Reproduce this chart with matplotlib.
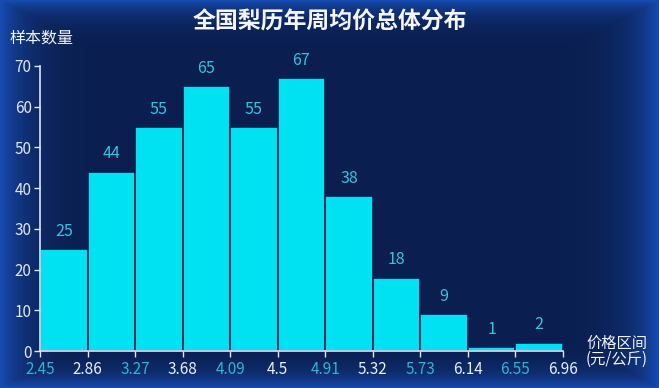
import numpy as np
import matplotlib
matplotlib.use("Agg")
import matplotlib.pyplot as plt

plt.rcParams['font.family'] = ['Noto Sans CJK SC', 'DejaVu Sans']

# price bins (yuan/kg) and weekly sample counts
bin_edges = [2.45, 2.86, 3.27, 3.68, 4.09, 4.5, 4.91, 5.32, 5.73, 6.14, 6.55, 6.96]
counts = [25, 44, 55, 65, 55, 67, 38, 18, 9, 1, 2]
tick_labels = ["2.45", "2.86", "3.27", "3.68", "4.09", "4.5", "4.91", "5.32", "5.73", "6.14", "6.55", "6.96"]

fig = plt.figure(figsize=(6.59, 3.88), dpi=100)

# dark navy background, brighter blue toward the edges
bg = fig.add_axes([0, 0, 1, 1])
gx, gy = np.meshgrid(np.linspace(-1, 1, 659), np.linspace(-1, 1, 388))
edge = np.clip(np.maximum(np.abs(gx) ** 12, np.abs(gy) ** 14), 0, 1)
inner = np.array([0.04, 0.12, 0.31])
outer = np.array([0.09, 0.30, 0.70])
img = inner[None, None, :] * (1 - edge[..., None]) + outer[None, None, :] * edge[..., None]
bg.imshow(img, aspect='auto', extent=[0, 1, 0, 1])
bg.axis('off')

ax = fig.add_axes([40 / 659, 1 - 351 / 388, 523 / 659, 285 / 388])
ax.patch.set_alpha(0)

widths = np.diff(bin_edges)
bars = ax.bar(bin_edges[:-1], counts, width=widths, align='edge',
              color='#00e1f2', edgecolor='#0b2152', linewidth=1.2)
for b, c in zip(bars, counts):
    ax.text(b.get_x() + b.get_width() / 2, c + 2.3, str(c), ha='center', va='bottom',
            color='#35c3de', fontsize=11.5)

ax.set_xlim(bin_edges[0], bin_edges[-1])
ax.set_ylim(0, 70)
ax.set_xticks(bin_edges)
ax.set_xticklabels(tick_labels)
for i, lbl in enumerate(ax.get_xticklabels()):
    lbl.set_color('#2fb4d2' if i % 2 == 0 else '#e8eef8')
ax.set_yticks(range(0, 71, 10))
ax.tick_params(axis='y', colors='#dfe6f2', labelsize=11, length=4, width=1, pad=2)
ax.tick_params(axis='x', labelsize=11, length=4, width=1, color='#dfe6f2', pad=3)
for s in ['top', 'right']:
    ax.spines[s].set_visible(False)
for s in ['left', 'bottom']:
    ax.spines[s].set_color('#dfe6f2')
    ax.spines[s].set_linewidth(1.2)

fig.text(0.5, 1 - 22 / 388, "全国梨历年周均价总体分布", ha='center', va='center',
         color='#f4f6fb', fontsize=16.5, fontweight='bold')
fig.text(9 / 659, 1 - 38 / 388, "样本数量", ha='left', va='center',
         color='#f0f3fa', fontsize=11.5)
fig.text(617 / 659, 1 - 351 / 388, "价格区间\n(元/公斤)", ha='center', va='center',
         color='#f0f3fa', fontsize=11, linespacing=0.9)

fig.savefig("out.png", dpi=100)
